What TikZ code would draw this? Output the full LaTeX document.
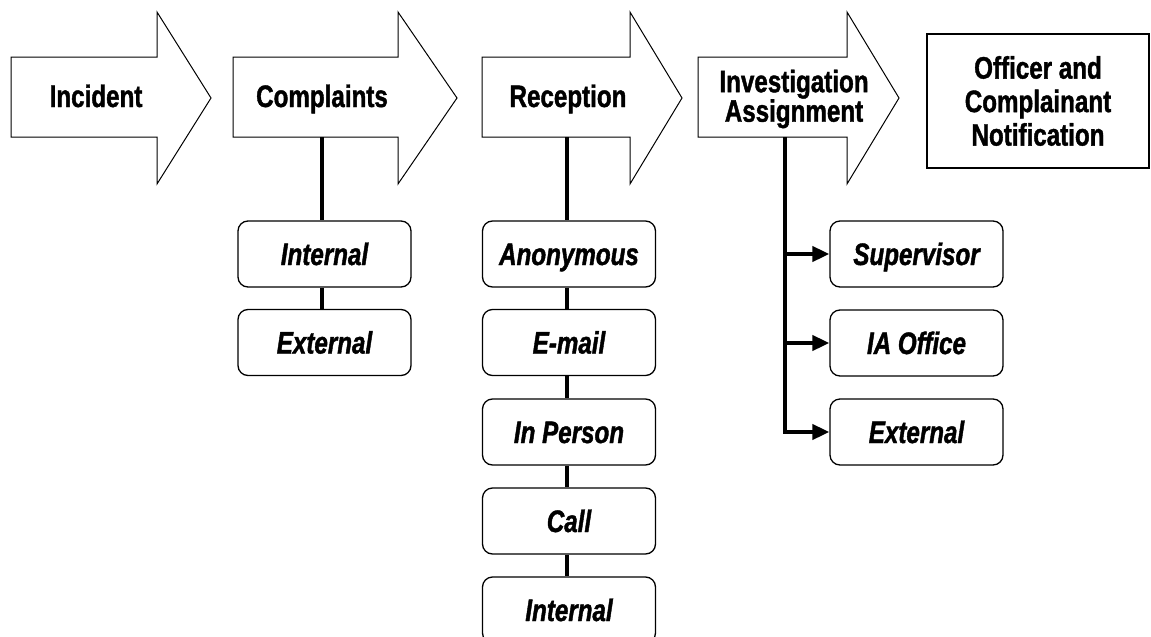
\documentclass[tikz,border=0pt]{standalone}
\usepackage{fontspec}
\newfontfamily\labfont[FakeStretch=0.78,FakeBold=1.3]{Liberation Sans}
\usetikzlibrary{arrows.meta}
\tikzset{
  bigarrow/.style={draw=black, line width=1pt, fill=white, line join=miter},
  arrowlabel/.style={font=\labfont\bfseries\fontsize{31}{29}\selectfont, align=center, inner sep=0pt},
  subbox/.style={draw=black, line width=1.3pt, rounded corners=10pt, fill=white,
     minimum width=173pt, minimum height=66pt, inner sep=0pt,
     text height=22pt, text depth=0pt,
     font=\labfont\bfseries\itshape\fontsize{31}{29}\selectfont},
  notebox/.style={draw=black, line width=1.3pt, fill=white,
     minimum width=222pt, minimum height=134pt, inner sep=0pt, align=center,
     font=\labfont\bfseries\fontsize{31}{33.5}\selectfont},
  stem/.style={line width=4pt, draw=black},
  branch/.style={line width=4pt, draw=black, -{Triangle[length=17pt,width=15pt]}}
}
\begin{document}
\begin{tikzpicture}[x=1pt,y=-1pt]
\useasboundingbox (0,0) rectangle (1151,637);
\clip (0,0) rectangle (1151,637);
% big arrows
\draw[bigarrow] (11,57) -- (157,57) -- (157,12) -- (211,98) -- (157,184) -- (157,137) -- (11,137) -- cycle;
\draw[bigarrow] (233,57) -- (398,57) -- (398,12) -- (457,98) -- (398,184) -- (398,137) -- (233,137) -- cycle;
\draw[bigarrow] (482,57) -- (630,57) -- (630,12) -- (682,98) -- (630,184) -- (630,137) -- (482,137) -- cycle;
\draw[bigarrow] (698,57) -- (847,57) -- (847,12) -- (899,98) -- (847,184) -- (847,137) -- (698,137) -- cycle;
\node[arrowlabel, anchor=base] (incident) at (96,107) {Incident};
\node[arrowlabel, anchor=base] (complaints) at (322,107) {Complaints};
\node[arrowlabel, anchor=base] (reception) at (568,107) {Reception};
\node[arrowlabel] (investigation) at (794,99) {Investigation\\[-0.5pt]Assignment};
\node[notebox] (notify) at (1038,101) {Officer and\\Complainant\\Notification};
% stems' start points at arrow bottoms
\coordinate (cstem) at (322,137);
\coordinate (rstem) at (567,137);
\coordinate (istem) at (785,137);
% complaints column
\node[subbox] (cint) at (324.5,254) {Internal};
\node[subbox] (cext) at (324.5,342.5) {External};
% reception column
\node[subbox] (ranon) at (569,254) {Anonymous};
\node[subbox] (remail) at (569,342.5) {E-mail};
\node[subbox] (rperson) at (569,432) {In Person};
\node[subbox] (rcall) at (569,521) {Call};
\node[subbox] (rint) at (569,610) {Internal};
% investigation column
\node[subbox] (isup) at (916.5,254) {Supervisor};
\node[subbox] (iia) at (916.5,343) {IA Office};
\node[subbox] (iext) at (916.5,432) {External};
% connectors
\draw[stem] (cstem) -- (cstem |- cint.north);
\draw[stem] (cstem |- cint.south) -- (cstem |- cext.north);
\draw[stem] (rstem) -- (rstem |- ranon.north);
\draw[stem] (rstem |- ranon.south) -- (rstem |- remail.north);
\draw[stem] (rstem |- remail.south) -- (rstem |- rperson.north);
\draw[stem] (rstem |- rperson.south) -- (rstem |- rcall.north);
\draw[stem] (rstem |- rcall.south) -- (rstem |- rint.north);
\draw[branch, line join=miter] (istem) |- (iext.west);
\draw[branch] (istem |- isup.west) -- (isup.west);
\draw[branch] (istem |- iia.west) -- (iia.west);
\end{tikzpicture}
\end{document}
